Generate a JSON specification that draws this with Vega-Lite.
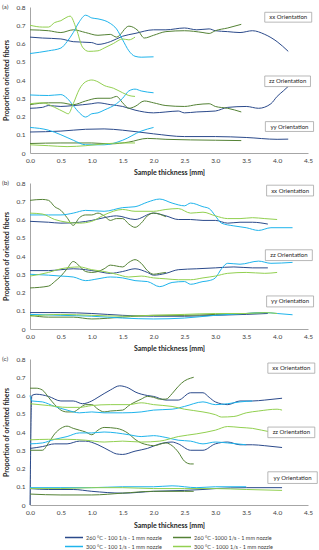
{
  "$schema": "https://vega.github.io/schema/vega-lite/v6.json",
  "padding": {"left": 2, "top": 3, "right": 0, "bottom": 0},
  "spacing": 3,
  "config": {
    "font": "Lato",
    "view": {"stroke": null},
    "axis": {"labelFontSize": 6.5, "titleFontSize": 7, "titleFontWeight": "bold", "domainColor": "#a6a6a6", "ticks": false, "grid": false, "labelColor": "#404040", "titleColor": "#262626", "labelOverlap": false, "labelFlush": false, "labelBound": false, "tickCount": 20},
    "legend": {"labelFontSize": 5.5, "labelColor": "#404040", "padding": 0, "layout": {"bottom": {"anchor": "middle"}}},
    "title": {"fontSize": 6.5, "fontWeight": "normal", "color": "#404040"}
  },
  "datasets": {
    "lines": [
      {"p":"a","s":"A","o":"xx","t":[0,0.2,0.5,0.7,1.0,1.1,1.3,1.5,1.7,2.0,2.2,2.5,2.7,2.9,3.0,3.2,3.4,3.6,3.8,4.0,4.18],"v":[0.635,0.63,0.625,0.61,0.605,0.595,0.61,0.64,0.655,0.675,0.675,0.685,0.675,0.68,0.67,0.665,0.66,0.67,0.65,0.61,0.557]},
      {"p":"a","s":"B","o":"xx","t":[0,0.3,0.5,0.7,0.9,1.1,1.3,1.4,1.6,1.75,1.85,2.0,2.2,2.5,2.8,2.9,3.0,3.2,3.42],"v":[0.675,0.67,0.66,0.675,0.66,0.645,0.65,0.635,0.695,0.67,0.63,0.645,0.665,0.67,0.66,0.655,0.67,0.685,0.705]},
      {"p":"a","s":"C","o":"xx","t":[0,0.3,0.5,0.6,0.7,0.8,0.9,1.0,1.1,1.3,1.4,1.5,1.6,1.7,1.8,2.0],"v":[0.545,0.56,0.575,0.61,0.66,0.72,0.755,0.74,0.735,0.71,0.68,0.62,0.56,0.53,0.525,0.527]},
      {"p":"a","s":"D","o":"xx","t":[0,0.2,0.3,0.4,0.5,0.6,0.65,0.75,0.85,0.95,1.1,1.2,1.35,1.5,1.6,1.7],"v":[0.70,0.69,0.69,0.715,0.725,0.745,0.75,0.68,0.58,0.557,0.56,0.575,0.6,0.625,0.62,0.635]},
      {"p":"a","s":"A","o":"zz","t":[0,0.2,0.3,0.5,0.7,1.0,1.1,1.3,1.5,1.7,2.0,2.2,2.4,2.5,2.7,3.0,3.2,3.5,3.7,3.9,4.0,4.1,4.18],"v":[0.245,0.25,0.26,0.255,0.26,0.27,0.275,0.265,0.255,0.235,0.22,0.225,0.23,0.22,0.225,0.23,0.25,0.255,0.245,0.27,0.31,0.34,0.365]},
      {"p":"a","s":"B","o":"zz","t":[0,0.3,0.5,0.7,0.9,1.1,1.3,1.4,1.5,1.6,1.7,1.85,2.0,2.2,2.5,2.7,2.9,3.0,3.2,3.42],"v":[0.265,0.275,0.275,0.265,0.285,0.3,0.3,0.31,0.275,0.245,0.255,0.285,0.275,0.26,0.255,0.265,0.27,0.255,0.245,0.225]},
      {"p":"a","s":"C","o":"zz","t":[0,0.3,0.5,0.6,0.7,0.8,0.9,1.0,1.1,1.2,1.4,1.5,1.6,1.7,1.8,2.0],"v":[0.318,0.315,0.32,0.3,0.26,0.22,0.197,0.215,0.22,0.235,0.27,0.3,0.34,0.35,0.34,0.33]},
      {"p":"a","s":"D","o":"zz","t":[0,0.2,0.4,0.55,0.62,0.7,0.8,0.9,1.0,1.1,1.2,1.35,1.5,1.6,1.7],"v":[0.27,0.275,0.25,0.225,0.215,0.27,0.35,0.39,0.40,0.39,0.37,0.355,0.33,0.315,0.31]},
      {"p":"a","s":"A","o":"yy","t":[0,0.5,0.9,1.2,1.5,2.0,2.5,3.0,3.5,4.0,4.18],"v":[0.115,0.12,0.13,0.132,0.125,0.105,0.09,0.09,0.085,0.075,0.076]},
      {"p":"a","s":"B","o":"yy","t":[0,0.5,1.0,1.3,1.6,1.9,2.2,3.0,3.42],"v":[0.052,0.055,0.055,0.05,0.06,0.08,0.075,0.07,0.068]},
      {"p":"a","s":"C","o":"yy","t":[0,0.3,0.5,0.7,0.9,1.2,1.5,1.8,2.0],"v":[0.14,0.125,0.1,0.07,0.045,0.045,0.07,0.12,0.14]},
      {"p":"a","s":"D","o":"yy","t":[0,0.3,0.6,0.9,1.2,1.5,1.7],"v":[0.045,0.04,0.035,0.04,0.05,0.055,0.055]},

      {"p":"b","s":"A","o":"xx","t":[0,0.3,0.5,0.8,1.0,1.2,1.4,1.7,2.0,2.2,2.4,2.6,2.8,3.0,3.2,3.4,3.6,3.85],"v":[0.59,0.585,0.58,0.585,0.595,0.61,0.62,0.6,0.635,0.62,0.6,0.6,0.595,0.595,0.58,0.585,0.585,0.575]},
      {"p":"b","s":"B","o":"xx","t":[0,0.2,0.3,0.4,0.5,0.6,0.7,0.8,0.9,1.0,1.1,1.2,1.3,1.4,1.5,1.6,1.7,1.8,1.9,2.0,2.2],"v":[0.705,0.71,0.705,0.67,0.65,0.61,0.568,0.61,0.625,0.625,0.635,0.62,0.595,0.605,0.605,0.575,0.557,0.58,0.62,0.635,0.615]},
      {"p":"b","s":"C","o":"xx","t":[0,0.3,0.5,0.7,0.9,1.2,1.5,1.7,1.9,2.1,2.3,2.5,2.6,2.8,2.9,3.0,3.1,3.3,3.5,3.7,3.9,4.25],"v":[0.625,0.625,0.625,0.635,0.65,0.645,0.665,0.67,0.695,0.712,0.69,0.675,0.69,0.67,0.66,0.62,0.58,0.565,0.555,0.54,0.555,0.555]},
      {"p":"b","s":"D","o":"xx","t":[0,0.2,0.4,0.6,0.8,1.0,1.2,1.5,1.7,2.0,2.2,2.4,2.6,2.8,3.0,3.2,3.4,3.6,3.8,4.0],"v":[0.635,0.63,0.6,0.585,0.58,0.59,0.625,0.655,0.645,0.645,0.655,0.66,0.635,0.64,0.62,0.605,0.605,0.61,0.605,0.60]},
      {"p":"b","s":"A","o":"zz","t":[0,0.3,0.5,0.7,0.9,1.1,1.3,1.5,1.7,1.9,2.0,2.2,2.4,2.7,3.0,3.3,3.6,3.85],"v":[0.32,0.32,0.325,0.33,0.325,0.315,0.305,0.315,0.33,0.31,0.295,0.305,0.325,0.33,0.335,0.34,0.335,0.335]},
      {"p":"b","s":"B","o":"zz","t":[0,0.3,0.4,0.5,0.6,0.7,0.8,0.9,1.0,1.1,1.2,1.3,1.4,1.5,1.6,1.7,1.8,1.9,2.0,2.1,2.2],"v":[0.225,0.235,0.26,0.29,0.33,0.37,0.345,0.315,0.31,0.315,0.33,0.35,0.345,0.34,0.365,0.38,0.36,0.32,0.30,0.305,0.31]},
      {"p":"b","s":"C","o":"zz","t":[0,0.3,0.5,0.7,0.9,1.1,1.3,1.5,1.7,1.9,2.1,2.3,2.5,2.6,2.8,2.9,3.0,3.1,3.2,3.4,3.7,3.9,4.25],"v":[0.30,0.295,0.29,0.285,0.265,0.275,0.285,0.28,0.265,0.26,0.232,0.255,0.26,0.245,0.26,0.265,0.28,0.33,0.36,0.355,0.372,0.36,0.365]},
      {"p":"b","s":"D","o":"zz","t":[0,0.3,0.5,0.8,1.0,1.2,1.4,1.6,1.8,2.0,2.2,2.4,2.6,2.8,3.0,3.2,3.5,3.8,4.0],"v":[0.29,0.31,0.33,0.34,0.325,0.315,0.3,0.285,0.29,0.28,0.275,0.27,0.27,0.28,0.29,0.305,0.31,0.305,0.31]},
      {"p":"b","s":"A","o":"yy","t":[0,0.5,1.0,1.5,2.0,2.5,3.0,3.5,3.85],"v":[0.09,0.09,0.085,0.075,0.07,0.07,0.075,0.08,0.085]},
      {"p":"b","s":"B","o":"yy","t":[0,0.3,0.7,1.0,1.5,2.0,2.5,3.0,3.5,3.8],"v":[0.075,0.065,0.065,0.055,0.065,0.075,0.075,0.08,0.085,0.09]},
      {"p":"b","s":"C","o":"yy","t":[0,0.5,1.0,1.5,2.0,2.5,3.0,3.5,3.8,4.0,4.25],"v":[0.08,0.075,0.07,0.06,0.055,0.06,0.075,0.085,0.09,0.085,0.078]},
      {"p":"b","s":"D","o":"yy","t":[0,0.5,1.0,1.5,2.0,2.5,3.0,3.5,3.8,4.0],"v":[0.07,0.08,0.075,0.07,0.075,0.08,0.085,0.085,0.09,0.085]},

      {"p":"c","s":"A","o":"xx","t":[0,0.03,0.1,0.3,0.5,0.7,0.85,1.0,1.1,1.3,1.45,1.6,1.7,1.9,2.0,2.2,2.4,2.6,2.8,2.9,3.0,3.2,3.4,3.6,3.8,4.08],"v":[0,0.60,0.607,0.595,0.57,0.57,0.555,0.57,0.59,0.63,0.653,0.64,0.62,0.6,0.595,0.575,0.575,0.615,0.615,0.59,0.565,0.55,0.57,0.57,0.575,0.585]},
      {"p":"c","s":"B","o":"xx","t":[0,0.1,0.2,0.3,0.4,0.5,0.6,0.7,0.8,0.9,1.0,1.1,1.2,1.3,1.5,1.6,1.8,1.9,2.0,2.1,2.2,2.3,2.4,2.5,2.6,2.65],"v":[0.64,0.64,0.63,0.59,0.55,0.52,0.51,0.51,0.53,0.55,0.55,0.525,0.51,0.515,0.52,0.545,0.58,0.595,0.59,0.58,0.58,0.61,0.65,0.68,0.695,0.70]},
      {"p":"c","s":"C","o":"xx","t":[0,0.03,0.2,0.4,0.6,0.8,1.0,1.2,1.5,1.8,2.0,2.3,2.5,2.8,3.0,3.2,3.4,3.6],"v":[0.60,0.57,0.565,0.54,0.52,0.505,0.51,0.505,0.505,0.51,0.52,0.525,0.54,0.565,0.55,0.555,0.565,0.57]},
      {"p":"c","s":"D","o":"xx","t":[0,0.3,0.6,0.8,1.0,1.3,1.6,1.8,2.0,2.3,2.5,2.8,3.0,3.1,3.3,3.5,3.7,4.0,4.08],"v":[0.555,0.545,0.535,0.535,0.545,0.55,0.55,0.56,0.55,0.54,0.525,0.51,0.495,0.482,0.485,0.505,0.515,0.525,0.52]},
      {"p":"c","s":"A","o":"zz","t":[0,0.2,0.4,0.6,0.8,0.9,1.1,1.3,1.4,1.5,1.7,1.9,2.1,2.3,2.4,2.6,2.8,3.0,3.2,3.4,3.6,3.8,4.08],"v":[0.31,0.32,0.335,0.335,0.35,0.35,0.33,0.295,0.28,0.277,0.295,0.31,0.335,0.345,0.335,0.3,0.3,0.335,0.345,0.33,0.33,0.325,0.315]},
      {"p":"c","s":"B","o":"zz","t":[0,0.2,0.3,0.4,0.5,0.6,0.7,0.8,0.9,1.0,1.1,1.2,1.4,1.5,1.6,1.7,1.8,1.9,2.0,2.2,2.3,2.4,2.5,2.6,2.65],"v":[0.30,0.30,0.34,0.39,0.42,0.432,0.42,0.41,0.40,0.385,0.41,0.425,0.42,0.41,0.39,0.36,0.34,0.33,0.325,0.34,0.325,0.29,0.24,0.225,0.225]},
      {"p":"c","s":"C","o":"zz","t":[0,0.2,0.4,0.6,0.8,1.0,1.2,1.4,1.6,1.8,2.0,2.2,2.4,2.6,2.8,3.0,3.2,3.5],"v":[0.335,0.34,0.36,0.375,0.395,0.395,0.40,0.395,0.385,0.375,0.38,0.37,0.355,0.35,0.335,0.345,0.34,0.33]},
      {"p":"c","s":"D","o":"zz","t":[0,0.3,0.6,0.9,1.2,1.5,1.8,2.1,2.4,2.7,3.0,3.2,3.4,3.6,3.9,4.08],"v":[0.357,0.36,0.36,0.355,0.345,0.35,0.345,0.35,0.375,0.39,0.41,0.43,0.425,0.42,0.40,0.395]},
      {"p":"c","s":"A","o":"yy","t":[0,0.3,0.7,1.0,1.5,2.0,2.5,2.8,3.0,3.5,4.08],"v":[0.09,0.085,0.085,0.075,0.065,0.075,0.08,0.085,0.09,0.095,0.095]},
      {"p":"c","s":"B","o":"yy","t":[0,0.5,1.0,1.5,2.0,2.5,2.65],"v":[0.06,0.055,0.055,0.065,0.075,0.075,0.075]},
      {"p":"c","s":"C","o":"yy","t":[0,0.5,1.0,1.5,2.0,2.3,2.7,3.0,3.5],"v":[0.095,0.095,0.095,0.10,0.10,0.105,0.095,0.10,0.10]},
      {"p":"c","s":"D","o":"yy","t":[0,0.5,1.0,1.5,2.0,2.5,3.0,3.5,4.08],"v":[0.09,0.09,0.095,0.095,0.09,0.09,0.09,0.085,0.08]}
    ],
    "boxes": [
      {"p":"a","label":"xx Orientation","x1":3.8,"x2":4.56,"y1":0.717,"y2":0.771},
      {"p":"a","label":"zz Orientation","x1":3.8,"x2":4.54,"y1":0.364,"y2":0.422},
      {"p":"a","label":"yy Orientation","x1":3.81,"x2":4.59,"y1":0.118,"y2":0.172},
      {"p":"b","label":"xx Orientation","x1":3.83,"x2":4.59,"y1":0.729,"y2":0.788},
      {"p":"b","label":"zz Orientation","x1":3.81,"x2":4.57,"y1":0.375,"y2":0.434},
      {"p":"b","label":"yy Orientation","x1":3.83,"x2":4.59,"y1":0.121,"y2":0.181},
      {"p":"c","label":"xx Orientation","x1":3.85,"x2":4.61,"y1":0.722,"y2":0.778},
      {"p":"c","label":"zz Orientation","x1":3.85,"x2":4.61,"y1":0.369,"y2":0.427},
      {"p":"c","label":"yy Orientation","x1":3.85,"x2":4.65,"y1":0.118,"y2":0.182}
    ]
  },
  "vconcat": [
    {
      "width": 278, "height": 146,
      "title": {"text": "(a)", "anchor": "start", "frame": "group", "orient": "top", "dx": -28, "dy": 6, "offset": 0},
      "layer": [
        {
          "data": {"name": "lines"},
          "transform": [{"filter": "datum.p == 'a'"}, {"flatten": ["t", "v"]}],
          "mark": {"type": "line", "strokeWidth": 1, "interpolate": "monotone"},
          "encoding": {
            "x": {"field": "t", "type": "quantitative", "title": "Sample thickness [mm]", "scale": {"domain": [0, 4.5], "nice": false}, "axis": {"values": [0,0.5,1,1.5,2,2.5,3,3.5,4,4.5], "tickCount": 20, "format": ".1f", "labelOverlap": false, "labelPadding": 4, "titlePadding": 5}},
            "y": {"field": "v", "type": "quantitative", "title": "Proportion oriented fibers", "scale": {"domain": [0, 0.8], "nice": false}, "axis": {"values": [0,0.1,0.2,0.3,0.4,0.5,0.6,0.7,0.8], "tickCount": 20, "labelOverlap": false, "labelExpr": "datum.value == 0 ? '0' : format(datum.value, '.1f')", "labelPadding": 5, "titlePadding": 6}},
            "color": {"field": "s", "type": "nominal", "scale": {"domain": ["A","B","C","D"], "range": ["#2B4A8B","#548235","#1FB4EC","#92D050"]}, "legend": {"orient": "bottom", "offset": 3, "columns": 2, "title": null, "symbolType": "M-1,0H3", "symbolSize": 81, "symbolStrokeWidth": 1.5, "labelOffset": 11, "columnPadding": 8, "rowPadding": 0, "labelExpr": "{'A':'260 °C - 100 1/s - 1 mm nozzle','B':'260 °C -1000 1/s - 1 mm nozzle','C':'300 °C - 100 1/s - 1 mm nozzle','D':'300 °C - 1000 1/s - 1 mm nozzle'}[datum.label]"}},
            "detail": {"field": "o"}
          }
        },
        {
          "data": {"name": "boxes"},
          "transform": [{"filter": "datum.p == 'a'"}],
          "mark": {"type": "rect", "fill": "white", "stroke": "#a6a6a6", "strokeWidth": 0.8},
          "encoding": {"x": {"field": "x1", "type": "quantitative", "title": "Sample thickness [mm]"}, "x2": {"field": "x2"}, "y": {"field": "y1", "type": "quantitative", "title": "Proportion oriented fibers"}, "y2": {"field": "y2"}}
        },
        {
          "data": {"name": "boxes"},
          "transform": [{"filter": "datum.p == 'a'"}, {"calculate": "(datum.x1 + datum.x2) / 2", "as": "xm"}, {"calculate": "(datum.y1 + datum.y2) / 2", "as": "ym"}],
          "mark": {"type": "text", "fontSize": 6, "color": "#262626"},
          "encoding": {"x": {"field": "xm", "type": "quantitative", "title": "Sample thickness [mm]"}, "y": {"field": "ym", "type": "quantitative", "title": "Proportion oriented fibers"}, "text": {"field": "label"}}
        }
      ]
    },
    {
      "width": 278, "height": 146,
      "title": {"text": "(b)", "anchor": "start", "frame": "group", "orient": "top", "dx": -28, "dy": 6, "offset": 0},
      "layer": [
        {
          "data": {"name": "lines"},
          "transform": [{"filter": "datum.p == 'b'"}, {"flatten": ["t", "v"]}],
          "mark": {"type": "line", "strokeWidth": 1, "interpolate": "monotone"},
          "encoding": {
            "x": {"field": "t", "type": "quantitative", "title": "Sample thickness [mm]", "scale": {"domain": [0, 4.5], "nice": false}, "axis": {"values": [0,0.5,1,1.5,2,2.5,3,3.5,4,4.5], "tickCount": 20, "format": ".1f", "labelOverlap": false, "labelPadding": 4, "titlePadding": 5}},
            "y": {"field": "v", "type": "quantitative", "title": "Proportion of oriented fibers", "scale": {"domain": [0, 0.8], "nice": false}, "axis": {"values": [0,0.1,0.2,0.3,0.4,0.5,0.6,0.7,0.8], "tickCount": 20, "labelOverlap": false, "labelExpr": "datum.value == 0 ? '0' : format(datum.value, '.1f')", "labelPadding": 5, "titlePadding": 6}},
            "color": {"field": "s", "type": "nominal", "scale": {"domain": ["A","B","C","D"], "range": ["#2B4A8B","#548235","#1FB4EC","#92D050"]}},
            "detail": {"field": "o"}
          }
        },
        {
          "data": {"name": "boxes"},
          "transform": [{"filter": "datum.p == 'b'"}],
          "mark": {"type": "rect", "fill": "white", "stroke": "#a6a6a6", "strokeWidth": 0.8},
          "encoding": {"x": {"field": "x1", "type": "quantitative", "title": "Sample thickness [mm]"}, "x2": {"field": "x2"}, "y": {"field": "y1", "type": "quantitative", "title": "Proportion of oriented fibers"}, "y2": {"field": "y2"}}
        },
        {
          "data": {"name": "boxes"},
          "transform": [{"filter": "datum.p == 'b'"}, {"calculate": "(datum.x1 + datum.x2) / 2", "as": "xm"}, {"calculate": "(datum.y1 + datum.y2) / 2", "as": "ym"}],
          "mark": {"type": "text", "fontSize": 6, "color": "#262626"},
          "encoding": {"x": {"field": "xm", "type": "quantitative", "title": "Sample thickness [mm]"}, "y": {"field": "ym", "type": "quantitative", "title": "Proportion of oriented fibers"}, "text": {"field": "label"}}
        }
      ]
    },
    {
      "width": 278, "height": 146,
      "title": {"text": "(c)", "anchor": "start", "frame": "group", "orient": "top", "dx": -28, "dy": 6, "offset": 0},
      "layer": [
        {
          "data": {"name": "lines"},
          "transform": [{"filter": "datum.p == 'c'"}, {"flatten": ["t", "v"]}],
          "mark": {"type": "line", "strokeWidth": 1, "interpolate": "monotone"},
          "encoding": {
            "x": {"field": "t", "type": "quantitative", "title": "Sample thickness [mm]", "scale": {"domain": [0, 4.5], "nice": false}, "axis": {"values": [0,0.5,1,1.5,2,2.5,3,3.5,4,4.5], "tickCount": 20, "format": ".1f", "labelOverlap": false, "labelPadding": 4, "titlePadding": 6}},
            "y": {"field": "v", "type": "quantitative", "title": "Proportion of oriented fibers", "scale": {"domain": [0, 0.8], "nice": false}, "axis": {"values": [0,0.1,0.2,0.3,0.4,0.5,0.6,0.7,0.8], "tickCount": 20, "labelOverlap": false, "labelExpr": "datum.value == 0 ? '0' : format(datum.value, '.1f')", "labelPadding": 5, "titlePadding": 6}},
            "color": {"field": "s", "type": "nominal", "scale": {"domain": ["A","B","C","D"], "range": ["#2B4A8B","#548235","#1FB4EC","#92D050"]}},
            "detail": {"field": "o"}
          }
        },
        {
          "data": {"name": "boxes"},
          "transform": [{"filter": "datum.p == 'c'"}],
          "mark": {"type": "rect", "fill": "white", "stroke": "#a6a6a6", "strokeWidth": 0.8},
          "encoding": {"x": {"field": "x1", "type": "quantitative", "title": "Sample thickness [mm]"}, "x2": {"field": "x2"}, "y": {"field": "y1", "type": "quantitative", "title": "Proportion of oriented fibers"}, "y2": {"field": "y2"}}
        },
        {
          "data": {"name": "boxes"},
          "transform": [{"filter": "datum.p == 'c'"}, {"calculate": "(datum.x1 + datum.x2) / 2", "as": "xm"}, {"calculate": "(datum.y1 + datum.y2) / 2", "as": "ym"}],
          "mark": {"type": "text", "fontSize": 6, "color": "#262626"},
          "encoding": {"x": {"field": "xm", "type": "quantitative", "title": "Sample thickness [mm]"}, "y": {"field": "ym", "type": "quantitative", "title": "Proportion of oriented fibers"}, "text": {"field": "label"}}
        }
      ]
    }
  ]
}
